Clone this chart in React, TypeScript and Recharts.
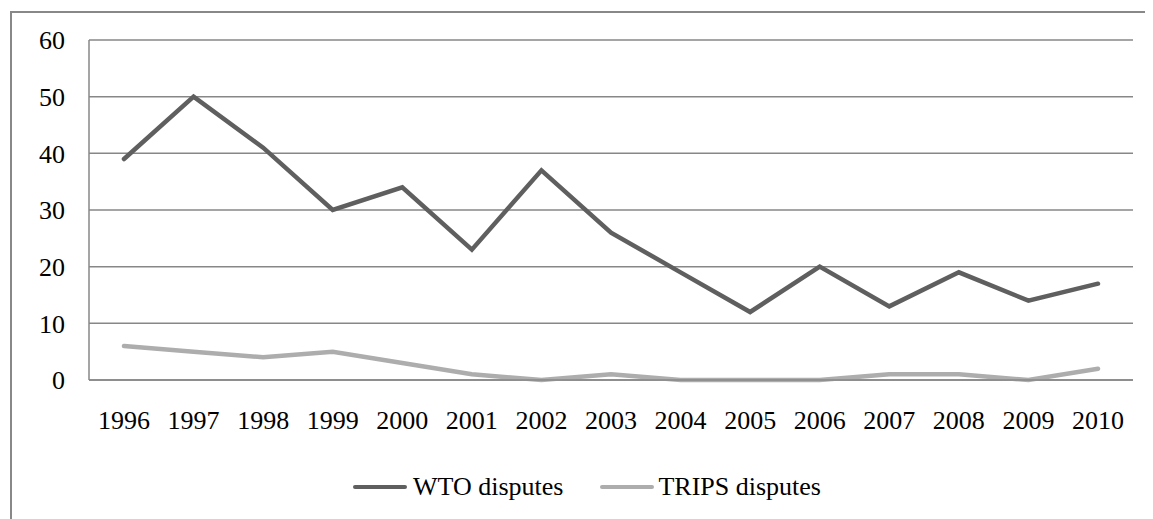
import { LineChart, Line, XAxis, YAxis, CartesianGrid } from 'recharts';

const YEARS = ['1996', '1997', '1998', '1999', '2000', '2001', '2002', '2003', '2004', '2005', '2006', '2007', '2008', '2009', '2010'];
const WTO = [39, 50, 41, 30, 34, 23, 37, 26, 19, 12, 20, 13, 19, 14, 17];
const TRIPS = [6, 5, 4, 5, 3, 1, 0, 1, 0, 0, 0, 1, 1, 0, 2];
const Y_TICKS = [0, 10, 20, 30, 40, 50, 60];

const data = YEARS.map((year, i) => ({ year, wto: WTO[i], trips: TRIPS[i] }));

const FONT = '"Liberation Serif", "Times New Roman", serif';
const tick = { fontSize: 26, fill: '#000', fontFamily: FONT };

export default function App() {
  return (
    <div style={{ position: 'relative', width: 1145, height: 511, background: '#fff', overflow: 'hidden' }}>
      {/* outer chart border, only left and top show in the crop */}
      <div
        style={{
          position: 'absolute',
          left: 2,
          top: 3,
          width: 1200,
          height: 600,
          borderLeft: '2px solid #888',
          borderTop: '2px solid #888',
        }}
      />
      <LineChart
        width={1145}
        height={440}
        data={data}
        margin={{ top: 32, right: 20, left: 0, bottom: 0 }}
        style={{ position: 'absolute', left: 0, top: 0 }}
      >
        <CartesianGrid vertical={false} stroke="#878787" strokeWidth={1.5} />
        <XAxis
          dataKey="year"
          tick={tick}
          tickLine={false}
          tickSize={0}
          tickMargin={31}
          height={68}
          padding={{ left: 35, right: 35 }}
          axisLine={{ stroke: '#878787', strokeWidth: 1.5 }}
          interval={0}
        />
        <YAxis
          domain={[0, 60]}
          ticks={Y_TICKS}
          tick={tick}
          tickLine={false}
          tickSize={0}
          tickMargin={24}
          width={81}
          axisLine={{ stroke: '#878787', strokeWidth: 1.5 }}
        />
        <Line
          dataKey="trips"
          stroke="#adadad"
          strokeWidth={4.5}
          dot={false}
          strokeLinecap="round"
          isAnimationActive={false}
        />
        <Line
          dataKey="wto"
          stroke="#5f5f5f"
          strokeWidth={4.5}
          dot={false}
          strokeLinecap="round"
          isAnimationActive={false}
        />
      </LineChart>
      {/* legend */}
      <div
        style={{
          position: 'absolute',
          left: 345,
          top: 462,
          display: 'flex',
          alignItems: 'center',
          fontFamily: FONT,
          fontSize: 26,
          color: '#000',
          lineHeight: '34px',
        }}
      >
        <span style={{ display: 'inline-block', width: 54, height: 4.5, borderRadius: 2, background: '#5f5f5f', marginRight: 6 }} />
        <span>WTO disputes</span>
        <span style={{ display: 'inline-block', width: 54, height: 4.5, borderRadius: 2, background: '#adadad', marginLeft: 37, marginRight: 4 }} />
        <span>TRIPS disputes</span>
      </div>
    </div>
  );
}
